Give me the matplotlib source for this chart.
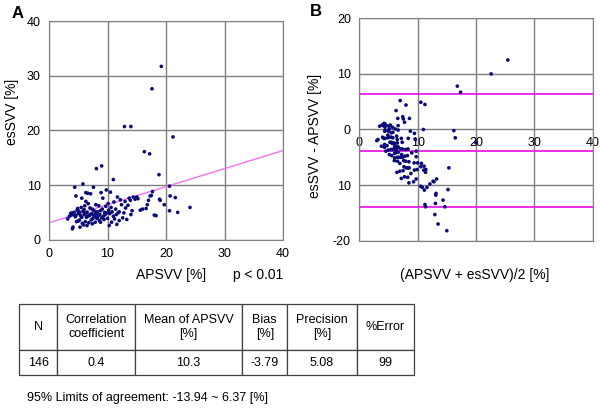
import matplotlib
matplotlib.use("Agg")
import matplotlib.pyplot as plt
import numpy as np

plt.rcParams['font.family'] = ['Liberation Sans', 'DejaVu Sans']

apsvv = [3.2, 3.5, 3.7, 3.8, 3.9, 4.0, 4.1, 4.2, 4.3, 4.4, 4.5, 4.6, 4.7, 4.8, 4.9,
         5.0, 5.1, 5.2, 5.3, 5.4, 5.5, 5.6, 5.7, 5.8, 5.9, 6.0, 6.0, 6.1, 6.2, 6.3,
         6.3, 6.4, 6.5, 6.5, 6.6, 6.7, 6.8, 6.9, 7.0, 7.1, 7.2, 7.3, 7.4, 7.5, 7.6,
         7.7, 7.8, 7.9, 8.0, 8.1, 8.1, 8.2, 8.3, 8.4, 8.5, 8.6, 8.7, 8.8, 8.9, 9.0,
         9.0, 9.1, 9.2, 9.3, 9.4, 9.5, 9.7, 9.8, 9.9, 10.0, 10.1, 10.2, 10.3, 10.4, 10.5,
         10.6, 10.7, 10.8, 11.0, 11.0, 11.1, 11.2, 11.4, 11.5, 11.6, 11.7, 11.8, 12.0, 12.0, 12.2,
         12.4, 12.6, 12.8, 12.9, 13.0, 13.1, 13.3, 13.5, 13.7, 13.9, 14.0, 14.0, 14.2, 14.4, 14.7,
         15.0, 15.2, 15.6, 16.0, 16.3, 16.6, 16.8, 17.0, 17.2, 17.3, 17.5, 17.6, 17.7, 18.0, 18.3,
         18.8, 18.9, 19.0, 19.2, 19.7, 20.6, 20.6, 20.7, 21.2, 21.6, 22.0, 24.1,
         4.6, 5.2, 5.6, 5.8, 6.2, 6.6, 7.0, 7.4, 7.6, 8.0, 8.3, 8.8, 9.6, 5.0]
essvv = [3.8, 4.3, 4.8, 4.5, 4.9, 2.0, 2.3, 4.6, 5.0, 9.6, 4.2, 8.0, 3.3, 5.4, 5.7,
         4.8, 5.2, 3.6, 2.3, 4.4, 5.9, 7.6, 3.0, 10.2, 2.7, 4.6, 5.5, 6.2, 3.3, 8.6,
         7.0, 4.1, 5.0, 2.6, 8.5, 6.6, 3.1, 4.4, 5.8, 8.4, 3.6, 4.8, 2.9, 3.9, 9.6,
         5.3, 4.2, 3.2, 6.4, 13.0, 4.7, 3.9, 5.1, 4.4, 6.2, 3.5, 4.6, 3.2, 8.6, 13.5,
         4.0, 5.6, 7.6, 4.3, 3.7, 5.0, 6.1, 9.1, 4.9, 3.9, 6.6, 5.4, 2.6, 4.8, 8.7,
         5.9, 3.2, 5.1, 11.0, 4.3, 6.9, 3.8, 5.6, 4.6, 2.8, 7.8, 4.9, 3.5, 5.1, 7.3,
         6.4, 4.0, 4.9, 20.7, 7.0, 5.8, 3.7, 6.3, 7.6, 7.2, 20.7, 4.6, 5.3, 7.8, 7.4,
         7.8, 7.5, 5.4, 5.6, 16.1, 5.7, 6.4, 7.2, 15.7, 8.0, 8.1, 27.6, 8.8, 4.5, 4.4,
         11.9, 7.4, 7.2, 31.7, 6.4, 9.8, 5.3, 8.0, 18.8, 7.7, 5.0, 5.9,
         4.4, 4.9, 4.1, 5.2, 4.8, 4.3, 4.6, 5.6, 4.5, 5.0, 4.1, 5.3, 4.6, 3.4]

fit_intercept = 3.1
fit_slope = 0.33

bias = -3.79
loa_low = -13.94
loa_high = 6.37

col_labels = ["N", "Correlation\ncoefficient", "Mean of APSVV\n[%]", "Bias\n[%]",
              "Precision\n[%]", "%Error"]
row_values = ["146", "0.4", "10.3", "-3.79", "5.08", "99"]

a = np.array(apsvv)
e = np.array(essvv)
mean_ae = (a + e) / 2
diff_ae = e - a

grid_c = '#7f7f7f'
dot_c = '#0a0a78'

fig = plt.figure(figsize=(6, 4.12), dpi=100)

# panel A
axA = fig.add_axes([49 / 600, 1 - 239.7 / 412, 234 / 600, 218.7 / 412])
axA.scatter(a, e, s=7, c=dot_c, edgecolors='none', zorder=3)
xs = np.array([0, 40])
axA.plot(xs, fit_intercept + fit_slope * xs, color='#f07ef0', lw=1.1, zorder=2)
axA.set_xlim(0, 40)
axA.set_ylim(0, 40)
axA.set_xticks([0, 10, 20, 30, 40])
axA.set_yticks([0, 10, 20, 30, 40])
axA.grid(True, color=grid_c, lw=1)
axA.tick_params(length=0, labelsize=9, pad=6)
for s in axA.spines.values():
    s.set_color(grid_c)

# panel B
axB = fig.add_axes([359.3 / 600, 1 - 240.7 / 412, 233.4 / 600, 222.4 / 412])
axB.scatter(mean_ae, diff_ae, s=7, c=dot_c, edgecolors='none', zorder=3)
for yv in [loa_high, bias, loa_low]:
    axB.axhline(yv, color='#e81ee8', lw=1.3, zorder=2)
axB.set_xlim(0, 40)
axB.set_ylim(-20, 20)
axB.set_xticks([0, 10, 20, 30, 40])
axB.set_yticks([-20, -10, 0, 10, 20])
axB.set_yticklabels(['-20', '10', '0', '10', '20'])
axB.grid(True, color=grid_c, lw=1)
axB.tick_params(axis='y', length=0, labelsize=9, pad=6)
axB.tick_params(axis='x', length=0, labelsize=9, pad=-75)
for s in axB.spines.values():
    s.set_color(grid_c)

# labels
fig.text(18 / 600, 1 - 14 / 412, 'A', fontsize=12, fontweight='bold', va='center', ha='center')
fig.text(316 / 600, 1 - 12 / 412, 'B', fontsize=12, fontweight='bold', va='center', ha='center')
fig.text(12 / 600, 1 - 112 / 412, 'esSVV [%]', rotation=90, fontsize=10, va='center', ha='center')
fig.text(171 / 600, 1 - 275 / 412, 'APSVV [%]', fontsize=10, va='center', ha='center')
fig.text(258 / 600, 1 - 275 / 412, 'p < 0.01', fontsize=10, va='center', ha='center')
fig.text(315 / 600, 1 - 136 / 412, 'esSVV - APSVV [%]', rotation=90, fontsize=10, va='center', ha='center')
fig.text(475 / 600, 1 - 275 / 412, '(APSVV + esSVV)/2 [%]', fontsize=10, va='center', ha='center')

# table
axT = fig.add_axes([19.3 / 600, 1 - 375 / 412, 394.7 / 600, 71 / 412])
axT.axis('off')
bounds = [19.3, 57.3, 135, 242.3, 287.3, 356.7, 414]
widths = np.diff(bounds)
tbl = axT.table(cellText=[row_values], colLabels=col_labels, cellLoc='center',
                colWidths=list(widths / widths.sum()), bbox=[0, 0, 1, 1])
tbl.auto_set_font_size(False)
for (r, c), cell in tbl.get_celld().items():
    cell.set_fontsize(9)
    cell.set_edgecolor('#404040')
    cell.set_linewidth(0.9)
    cell.set_height(46 if r == 0 else 25)

fig.text(27 / 600, 1 - 398 / 412, '95% Limits of agreement: -13.94 ~ 6.37 [%]', fontsize=9,
         va='center', ha='left')

fig.savefig('out.png', dpi=100)
